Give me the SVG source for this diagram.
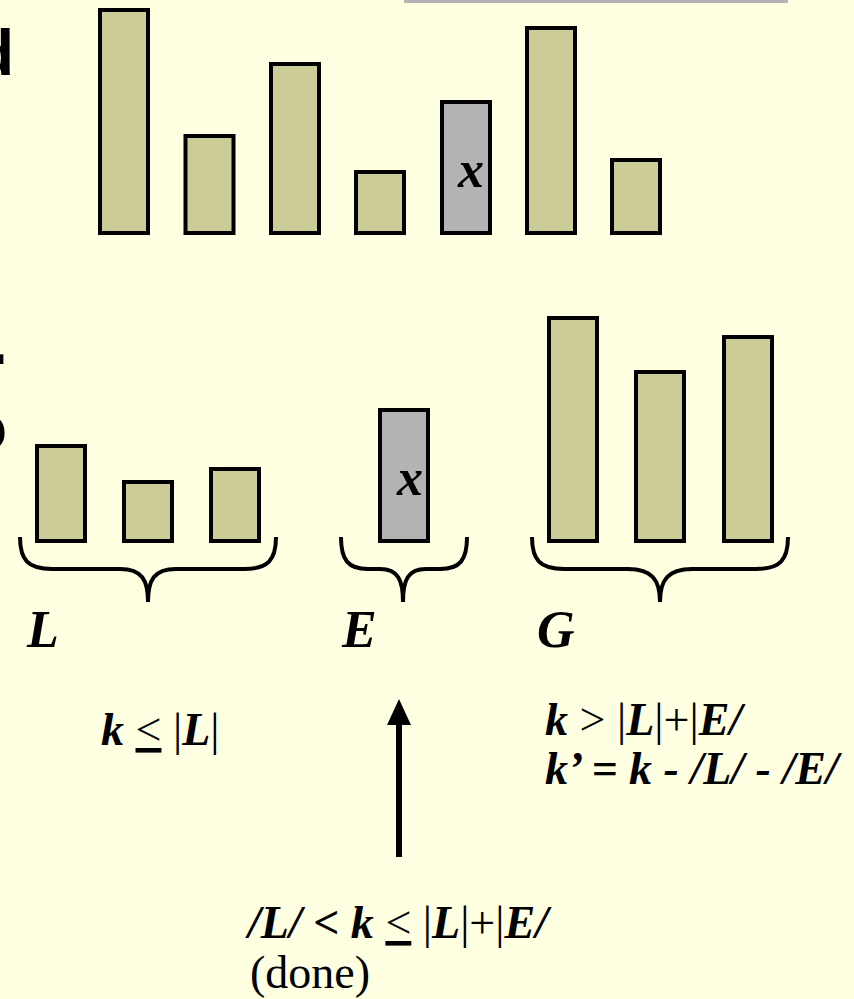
<svg xmlns="http://www.w3.org/2000/svg" width="854" height="999" viewBox="0 0 854 999">
<defs>
<style>
.bar{fill:#CCCC99;stroke:#000;stroke-width:4}
.piv{fill:#B3B3B3;stroke:#000;stroke-width:4}
.brace{fill:none;stroke:#000;stroke-width:4}
.bi{font-family:"Liberation Serif",serif;font-weight:bold;font-style:italic;fill:#000}
.rg{font-family:"Liberation Serif",serif;font-weight:normal;font-style:normal;fill:#000}
.t{font-family:"Liberation Serif",serif;font-size:46px;fill:#000}
.clip{font-family:"Liberation Sans",sans-serif;font-weight:bold;font-size:64px;fill:#000}
</style>
<marker id="ah" viewBox="0 0 26 24" refX="1" refY="12" markerWidth="26" markerHeight="24" markerUnits="userSpaceOnUse" orient="auto">
<path d="M0,0 L26,12 L0,24 Z" fill="#000"/>
</marker>
</defs>
<rect x="0" y="0" width="854" height="999" fill="#FFFFE1"/>
<rect x="404" y="0" width="384" height="3" fill="#B3B3B3"/>
<text class="clip" x="-25" y="75">d</text>
<text class="clip" x="-10" y="364" font-size="48">.</text>
<text class="clip" x="-32" y="450">o</text>

<g id="top-row">
<g id="t1"><rect class="bar" x="100" y="10" width="48" height="223"/></g>
<g id="t2"><rect class="bar" x="185.5" y="136" width="48" height="97"/></g>
<g id="t3"><rect class="bar" x="271" y="64" width="48" height="169"/></g>
<g id="t4"><rect class="bar" x="356" y="172" width="48" height="61"/></g>
<g id="t5"><rect class="piv" x="442" y="102" width="48" height="131"/><text class="bi" x="471" y="187" font-size="52" text-anchor="middle">x</text></g>
<g id="t6"><rect class="bar" x="527" y="28" width="48" height="205"/></g>
<g id="t7"><rect class="bar" x="612" y="160" width="48" height="73"/></g>
</g>

<g id="L-group">
<rect class="bar" x="37" y="446" width="48" height="95"/>
<rect class="bar" x="124" y="482" width="48" height="59"/>
<rect class="bar" x="211" y="469" width="48" height="72"/>
<path class="brace" d="M20 537 C20 560 28 569 52 569 L120 569 C142 569 148 580 148 602 C148 580 154 569 176 569 L244 569 C268 569 276 560 276 537"/>
<text class="bi" x="27" y="647" font-size="52">L</text>
</g>

<g id="E-group">
<rect class="piv" x="380" y="410" width="48" height="131"/>
<text class="bi" x="410" y="495" font-size="52" text-anchor="middle">x</text>
<path class="brace" d="M341 537 C341 560 348 569 368 569 L380 569 C398 569 403 580 403 602 C403 580 408 569 426 569 L440 569 C460 569 467 560 467 537"/>
<text class="bi" x="342" y="647" font-size="52">E</text>
</g>

<g id="G-group">
<rect class="bar" x="549" y="318" width="48" height="223"/>
<rect class="bar" x="636" y="372" width="48" height="169"/>
<rect class="bar" x="724" y="337" width="48" height="204"/>
<path class="brace" d="M532 537 C532 560 540 569 564 569 L628 569 C652 569 660 580 660 602 C660 580 668 569 692 569 L756 569 C780 569 788 560 788 537"/>
<text class="bi" x="537" y="647" font-size="52">G</text>
</g>

<g id="cond-L">
<text class="t" x="101" y="745"><tspan class="bi">k</tspan><tspan class="rg"> </tspan><tspan class="rg" text-decoration="underline">&lt;</tspan><tspan class="rg"> |</tspan><tspan class="bi">L</tspan><tspan class="rg">|</tspan></text>
</g>

<g id="cond-G">
<text class="t" x="545" y="735"><tspan class="bi">k</tspan><tspan class="rg"> &gt; |</tspan><tspan class="bi">L</tspan><tspan class="rg">|+|</tspan><tspan class="bi">E/</tspan></text>
<text class="t" x="545" y="784"><tspan class="bi">k’ = k - /L/ - /E/</tspan></text>
</g>

<g id="cond-E">
<text class="t" x="248" y="938"><tspan class="bi">/L/ &lt; k</tspan><tspan class="rg"> </tspan><tspan class="rg" text-decoration="underline">&lt;</tspan><tspan class="rg"> |</tspan><tspan class="bi">L</tspan><tspan class="rg">|+|</tspan><tspan class="bi">E/</tspan></text>
<text class="t rg" x="250" y="988">(done)</text>
</g>

<g id="connectors">
<line x1="399" y1="857" x2="399" y2="724" stroke="#000" stroke-width="6" marker-end="url(#ah)"/>
</g>
</svg>
